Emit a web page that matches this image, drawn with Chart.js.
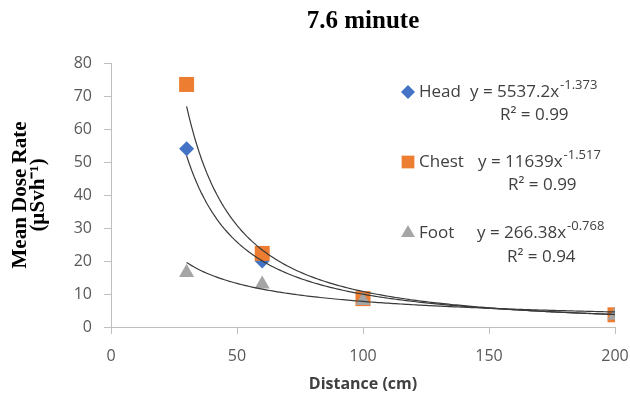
<!DOCTYPE html>
<html>
<head>
<meta charset="utf-8">
<script src="https://cdn.jsdelivr.net/npm/chart.js@4"></script>
<style>
  html, body { margin: 0; padding: 0; background: #fff; }
  #chart { display: block; }
</style>
</head>
<body>
<canvas id="chart" width="630" height="398"></canvas>
<script>
/* ── data ── */
const distance = [30, 60, 100, 200];
const headRate = [54, 20, 8.8, 3.8];
const chestRate = [73.5, 22.3, 8.6, 3.7];
const footRate = [16.5, 13, 8, 3.5];

const seriesNames = ['Head', 'Chest', 'Foot'];
const seriesColors = ['#4472C4', '#ED7D31', '#A5A5A5'];
const seriesMarkers = ['rectRot', 'rect', 'triangle'];

// power trendlines y = a * x^b as printed on the chart
const trendA = [5537.2, 11639, 266.38];
const trendB = [-1.373, -1.517, -0.768];
const rSquared = ['0.99', '0.99', '0.94'];

const xMin = 0, xMax = 200, xStep = 50;
const yMin = 0, yMax = 80, yStep = 10;

const TICK_COLOR = '#595959';
const AXIS_COLOR = '#BFBFBF';
const TEXT_COLOR = '#404040';

function pts(ys) {
  return distance.map((d, i) => ({ x: d, y: ys[i] }));
}

// trend curves go on top of the markers
const trendLines = {
  id: 'trendLines',
  afterDatasetsDraw(chart) {
    const { ctx, scales: { x, y } } = chart;
    const from = distance[0], to = distance[distance.length - 1];
    ctx.save();
    ctx.strokeStyle = '#3a3a3a';
    ctx.lineWidth = 1.2;
    trendA.forEach((a, i) => {
      ctx.beginPath();
      for (let d = from; d <= to; d += 1) {
        const px = x.getPixelForValue(d);
        const py = y.getPixelForValue(a * Math.pow(d, trendB[i]));
        if (d === from) ctx.moveTo(px, py); else ctx.lineTo(px, py);
      }
      ctx.stroke();
    });
    ctx.restore();
  }
};

// legend with equations, laid out like the Excel one
const legendRows = [
  { y: 92, eqX: 470, r2X: 500, r2Y: 115, r: 7 },
  { y: 162, eqX: 478, r2X: 508, r2Y: 185, r: 9 },
  { y: 233, eqX: 477, r2X: 507, r2Y: 257, r: 8 },
];

const eqLegend = {
  id: 'eqLegend',
  afterDraw(chart) {
    const ctx = chart.ctx;
    ctx.save();
    ctx.textBaseline = 'middle';
    ctx.textAlign = 'left';
    legendRows.forEach((row, i) => {
      ctx.fillStyle = seriesColors[i];
      Chart.helpers.drawPoint(ctx, { pointStyle: seriesMarkers[i], radius: row.r, borderWidth: 0, rotation: 0 }, 408, row.y);

      ctx.fillStyle = TEXT_COLOR;
      ctx.font = "17px 'Open Sans'";
      ctx.fillText(seriesNames[i], 419, row.y);

      const eq = 'y = ' + trendA[i] + 'x';
      ctx.fillText(eq, row.eqX, row.y);
      const w = ctx.measureText(eq).width;
      ctx.font = "13px 'Open Sans'";
      ctx.fillText(String(trendB[i]), row.eqX + w + 1, row.y - 7);

      ctx.font = "17px 'Open Sans'";
      ctx.fillText('R\u00B2 = ' + rSquared[i], row.r2X, row.r2Y);
    });
    ctx.restore();
  }
};

const datasets = seriesNames.map((name, i) => ({
  label: name,
  data: pts([headRate, chestRate, footRate][i]),
  backgroundColor: seriesColors[i],
  borderColor: seriesColors[i],
  borderWidth: 0,
  pointStyle: seriesMarkers[i],
  pointRadius: [7.5, 10.6, 8.7][i],
  order: 3 - i,
}));

new Chart(document.getElementById('chart'), {
  type: 'scatter',
  data: { datasets },
  plugins: [trendLines, eqLegend],
  options: {
    responsive: false,
    animation: false,
    devicePixelRatio: 1,
    layout: { padding: { left: 0, right: 15, top: 0, bottom: 0 } },
    plugins: {
      legend: { display: false },
      tooltip: { enabled: false },
      title: {
        display: true,
        text: '7.6 minute',
        fullSize: false,
        color: '#000',
        font: { family: "'Liberation Serif', serif", size: 25, weight: 'bold', lineHeight: 1.2 },
        padding: { top: 7, bottom: 26 },
      },
    },
    scales: {
      x: {
        type: 'linear',
        min: xMin,
        max: xMax,
        afterFit: s => { s.height = 71; s.paddingLeft = 0; s.paddingRight = 0; },
        ticks: { stepSize: xStep, color: TICK_COLOR, padding: 13, font: { family: "'Open Sans'", size: 16 } },
        grid: { display: true, drawOnChartArea: false, drawTicks: true, tickLength: 7, color: AXIS_COLOR },
        border: { color: AXIS_COLOR },
        title: {
          display: true,
          text: 'Distance (cm)',
          color: TEXT_COLOR,
          font: { family: "'Open Sans'", size: 16, weight: 'bold', lineHeight: 1.2 },
          padding: { top: 0, bottom: 4 },
        },
      },
      y: {
        type: 'linear',
        min: yMin,
        max: yMax,
        afterFit: s => { s.width = 111; },
        ticks: { stepSize: yStep, color: TICK_COLOR, padding: 12, font: { family: "'Open Sans'", size: 16 } },
        grid: { display: true, drawOnChartArea: false, drawTicks: true, tickLength: 7, color: AXIS_COLOR },
        border: { color: AXIS_COLOR },
        title: {
          display: true,
          text: ['Mean Dose Rate', '(\u00B5Svh\u207B\u00B9)'],
          color: '#000',
          font: { family: "'Liberation Serif', serif", size: 21, weight: 'bold', lineHeight: 0.88 },
          padding: { top: 11, bottom: 0 },
        },
      },
    },
  },
});
</script>
</body>
</html>
